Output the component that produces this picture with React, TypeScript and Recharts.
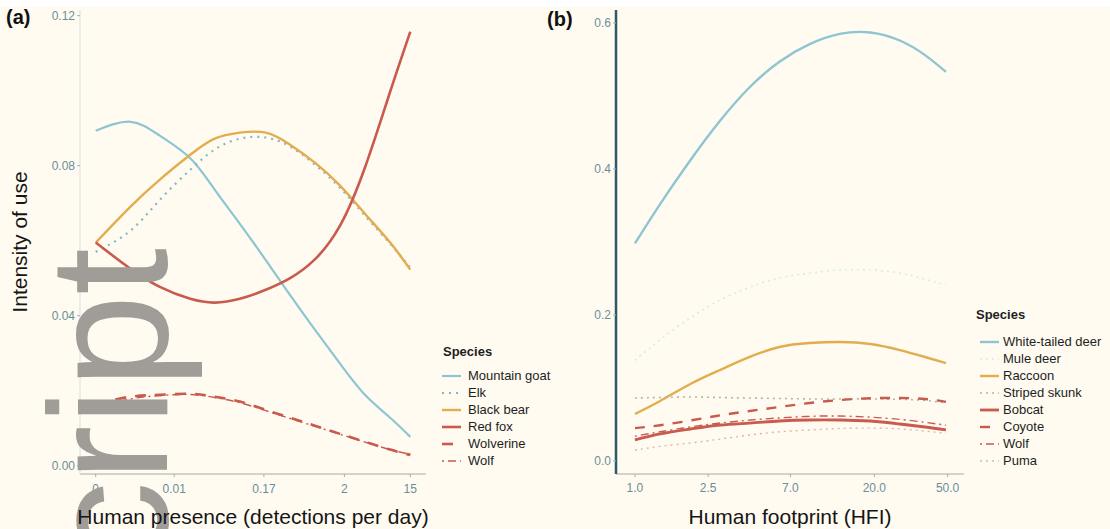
import React from 'react';
import { LineChart, Line, XAxis, YAxis } from 'recharts';

// ---------- Panel (a): human presence (detections per day) ----------
const DETECTIONS = [0, 0.0019, 0.0061, 0.017, 0.037, 0.081, 0.18, 0.38, 0.81, 1.75, 3.75, 8.1, 15];
const MOUNTAIN_GOAT = [0.0893, 0.0917, 0.088, 0.082, 0.0736, 0.0645, 0.0548, 0.0455, 0.0363, 0.0272, 0.0189, 0.0128, 0.0077];
const ELK = [0.057, 0.0627, 0.0709, 0.0789, 0.0843, 0.0872, 0.0875, 0.0851, 0.0803, 0.0741, 0.0667, 0.0592, 0.0528];
const BLACK_BEAR = [0.0595, 0.0691, 0.0763, 0.0829, 0.0872, 0.0888, 0.0888, 0.0856, 0.0808, 0.0747, 0.0672, 0.0595, 0.0523];
const RED_FOX = [0.0595, 0.0525, 0.0477, 0.0445, 0.0435, 0.0445, 0.0469, 0.05, 0.055, 0.064, 0.0795, 0.0997, 0.1157];
const WOLVERINE = [0.0165, 0.0184, 0.0189, 0.0192, 0.0184, 0.0171, 0.0149, 0.0128, 0.0107, 0.0085, 0.0064, 0.0043, 0.0029];
const WOLF_A = [0.0155, 0.0178, 0.0187, 0.019, 0.0182, 0.0168, 0.0147, 0.0126, 0.0105, 0.0084, 0.0063, 0.0043, 0.003];
const TICKS_A_X = [0, 0.01, 0.17, 2, 15];
const TICK_LABELS_A_X = ['0', '0.01', '0.17', '2', '15'];
const TICKS_A_Y = [0, 0.04, 0.08, 0.12];

// ---------- Panel (b): human footprint (HFI) ----------
const HFI = [1.0, 1.37, 2.0, 2.9, 4.2, 6.1, 8.9, 13, 19, 27.5, 37.7, 49];
const WHITE_TAILED_DEER = [0.298, 0.352, 0.412, 0.466, 0.512, 0.547, 0.571, 0.585, 0.587, 0.576, 0.556, 0.533];
const MULE_DEER = [0.138, 0.166, 0.196, 0.2205, 0.238, 0.2507, 0.2575, 0.2616, 0.2616, 0.2575, 0.249, 0.241];
const RACCOON = [0.0644, 0.0822, 0.1055, 0.1247, 0.1425, 0.1562, 0.1616, 0.163, 0.1603, 0.152, 0.1425, 0.1342];
const STRIPED_SKUNK = [0.0863, 0.087, 0.0877, 0.087, 0.0863, 0.0857, 0.085, 0.085, 0.085, 0.0845, 0.083, 0.0795];
const BOBCAT = [0.0288, 0.037, 0.0438, 0.0493, 0.052, 0.0548, 0.0562, 0.0562, 0.0548, 0.0507, 0.0466, 0.0425];
const COYOTE = [0.045, 0.049, 0.0555, 0.0625, 0.0685, 0.074, 0.0795, 0.0835, 0.086, 0.0863, 0.085, 0.081];
const WOLF_B = [0.034, 0.04, 0.0466, 0.052, 0.056, 0.059, 0.0612, 0.0616, 0.06, 0.057, 0.053, 0.049];
const PUMA = [0.015, 0.02, 0.0247, 0.03, 0.0356, 0.04, 0.0425, 0.0445, 0.045, 0.044, 0.041, 0.038];
const TICKS_B_X = [1, 2.5, 7, 20, 50];
const TICKS_B_Y = [0, 0.2, 0.4, 0.6];

// ---------- styles ----------
const BLUE = '#8ec5d0';
const GOLD = '#e2ad4e';
const RED = '#c85a4e';
const BG = '#fffbf1';
const TICK_COLOR = '#6a8e99';
const FONT = '"Liberation Sans", Arial, Helvetica, sans-serif';

const tr = (d: number) => Math.log10(d + 0.001);

const SERIES_A = [
  { key: 'goat', name: 'Mountain goat', values: MOUNTAIN_GOAT, color: BLUE, width: 2.2, dash: undefined as string | undefined },
  { key: 'elk', name: 'Elk', values: ELK, color: '#7fb9c8', width: 2.2, dash: '2 5' },
  { key: 'bear', name: 'Black bear', values: BLACK_BEAR, color: GOLD, width: 2.4, dash: undefined },
  { key: 'fox', name: 'Red fox', values: RED_FOX, color: RED, width: 2.6, dash: undefined },
  { key: 'wolverine', name: 'Wolverine', values: WOLVERINE, color: RED, width: 2.6, dash: '11 9' },
  { key: 'wolf', name: 'Wolf', values: WOLF_A, color: RED, width: 1.4, dash: '2 4 8 4' },
];

const SERIES_B = [
  { key: 'wtd', name: 'White-tailed deer', values: WHITE_TAILED_DEER, color: BLUE, width: 2.4, dash: undefined as string | undefined },
  { key: 'mule', name: 'Mule deer', values: MULE_DEER, color: '#d6ebef', width: 1.6, dash: '2 4' },
  { key: 'raccoon', name: 'Raccoon', values: RACCOON, color: GOLD, width: 2.4, dash: undefined },
  { key: 'skunk', name: 'Striped skunk', values: STRIPED_SKUNK, color: '#b9b3a0', width: 1.6, dash: '2 4' },
  { key: 'bobcat', name: 'Bobcat', values: BOBCAT, color: RED, width: 2.8, dash: undefined },
  { key: 'coyote', name: 'Coyote', values: COYOTE, color: RED, width: 2.4, dash: '10 9' },
  { key: 'wolf', name: 'Wolf', values: WOLF_B, color: RED, width: 1.4, dash: '2 4 8 4' },
  { key: 'puma', name: 'Puma', values: PUMA, color: '#e3b4ad', width: 1.4, dash: '2 4' },
];

const dataA = DETECTIONS.map((d, i) => {
  const row: Record<string, number> = { t: tr(d) };
  SERIES_A.forEach((s) => (row[s.key] = s.values[i]));
  return row;
});

const dataB = HFI.map((h, i) => {
  const row: Record<string, number> = { hfi: h };
  SERIES_B.forEach((s) => (row[s.key] = s.values[i]));
  return row;
});

const tickStyle = { fontSize: 12, fill: TICK_COLOR, fontFamily: FONT };

function Legend({ items, left, top, keyLeft, textLeft, firstGap }: any) {
  return (
    <div style={{ position: 'absolute', left, top, fontFamily: FONT, color: '#1e1e1e' }}>
      <div style={{ position: 'absolute', left: 0, top: 0, fontSize: 13, fontWeight: 'bold', lineHeight: '16px', whiteSpace: 'nowrap' }}>Species</div>
      {items.map((s: any, i: number) => (
        <div key={s.key} style={{ position: 'absolute', top: firstGap + i * 17, left: 0, height: 16, whiteSpace: 'nowrap' }}>
          <svg width={22} height={16} style={{ position: 'absolute', left: keyLeft, top: 0 }}>
            <line x1={1} y1={8} x2={20} y2={8} stroke={s.color} strokeWidth={s.width} strokeDasharray={s.dash} />
          </svg>
          <span style={{ position: 'absolute', left: textLeft, top: 0, fontSize: 13, lineHeight: '16px' }}>{s.name}</span>
        </div>
      ))}
    </div>
  );
}

export default function App() {
  return (
    <div style={{ position: 'absolute', left: 0, top: 0, width: 1110, height: 529, background: BG, overflow: 'hidden', fontFamily: FONT }}>
      <div style={{ position: 'absolute', left: 0, top: 0, width: 1110, height: 7, background: '#ffffff' }} />

      {/* Panel (a) */}
      <div style={{ position: 'absolute', left: 0, top: 0 }}>
        <LineChart width={440} height={529} data={dataA} margin={{ top: 10, right: 14, bottom: 25, left: 0 }}>
          <XAxis
            type="number"
            dataKey="t"
            domain={[-3.2084, 1.3845]}
            allowDataOverflow
            ticks={TICKS_A_X.map(tr)}
            tickFormatter={(v: number) => {
              const idx = TICKS_A_X.findIndex((d) => Math.abs(tr(d) - v) < 1e-6);
              return idx >= 0 ? TICK_LABELS_A_X[idx] : '';
            }}
            height={30}
            tick={tickStyle}
            tickSize={3}
            tickMargin={7}
            axisLine={{ stroke: '#c9c3bd', strokeWidth: 1.5 }}
            tickLine={{ stroke: '#9fb0b5' }}
          />
          <YAxis
            type="number"
            domain={[-0.0022, 0.1215]}
            allowDataOverflow
            ticks={TICKS_A_Y}
            tickFormatter={(v: number) => v.toFixed(2)}
            width={80}
            tick={tickStyle}
            tickSize={3}
            tickMargin={2}
            axisLine={{ stroke: '#e4e8e6', strokeWidth: 1.5 }}
            tickLine={{ stroke: '#9fb0b5' }}
          />
          {SERIES_A.map((s) => (
            <Line
              key={s.key}
              dataKey={s.key}
              type="natural"
              stroke={s.color}
              strokeWidth={s.width}
              strokeDasharray={s.dash}
              dot={false}
              activeDot={false}
              isAnimationActive={false}
            />
          ))}
        </LineChart>
      </div>

      {/* Panel (b) */}
      <div style={{ position: 'absolute', left: 540, top: 0 }}>
        <LineChart width={440} height={529} data={dataB} margin={{ top: 10, right: 16, bottom: 25, left: 0 }}>
          <XAxis
            type="number"
            dataKey="hfi"
            scale="log"
            domain={[0.789, 61.4]}
            allowDataOverflow
            ticks={TICKS_B_X}
            tickFormatter={(v: number) => v.toFixed(1)}
            height={30}
            tick={tickStyle}
            tickSize={3}
            tickMargin={6}
            axisLine={{ stroke: '#c9c3bd', strokeWidth: 1.5 }}
            tickLine={{ stroke: '#9fb0b5' }}
          />
          <YAxis
            type="number"
            domain={[-0.0178, 0.6178]}
            allowDataOverflow
            ticks={TICKS_B_Y}
            tickFormatter={(v: number) => v.toFixed(1)}
            width={76}
            tick={tickStyle}
            tickSize={3}
            tickMargin={2}
            axisLine={{ stroke: '#2d5a68', strokeWidth: 2.5 }}
            tickLine={{ stroke: '#9fb0b5' }}
          />
          {SERIES_B.map((s) => (
            <Line
              key={s.key}
              dataKey={s.key}
              type="natural"
              stroke={s.color}
              strokeWidth={s.width}
              strokeDasharray={s.dash}
              dot={false}
              activeDot={false}
              isAnimationActive={false}
            />
          ))}
        </LineChart>
      </div>

      {/* Legends */}
      <Legend items={SERIES_A} left={443} top={344} keyLeft={-2} textLeft={25} firstGap={24} />
      <Legend items={SERIES_B} left={976} top={307} keyLeft={3} textLeft={27} firstGap={27} />

      {/* Panel labels */}
      <div style={{ position: 'absolute', left: 6, top: 5, fontSize: 20, fontWeight: 'bold', lineHeight: '24px', color: '#111' }}>(a)</div>
      <div style={{ position: 'absolute', left: 547, top: 7, fontSize: 20, fontWeight: 'bold', lineHeight: '24px', color: '#111' }}>(b)</div>

      {/* Watermark */}
      <svg width={1110} height={529} style={{ position: 'absolute', left: 0, top: 0, pointerEvents: 'none' }}>
        <text x={167} y={248} transform="rotate(-90 167 248)" textAnchor="end" fontSize={168} fontFamily={FONT} fill="#a09d98">
          cript
        </text>
      </svg>

      {/* Axis titles */}
      <div style={{ position: 'absolute', left: 3, top: 505, width: 500, textAlign: 'center', fontSize: 21, lineHeight: '24px', color: '#151515' }}>
        Human presence (detections per day)
      </div>
      <div style={{ position: 'absolute', left: 540, top: 505, width: 500, textAlign: 'center', fontSize: 21, lineHeight: '24px', color: '#151515' }}>
        Human footprint (HFI)
      </div>
      <div style={{ position: 'absolute', left: -80, top: 230, width: 200, height: 24, textAlign: 'center', fontSize: 21, lineHeight: '24px', color: '#151515', transform: 'rotate(-90deg)' }}>
        Intensity of use
      </div>
    </div>
  );
}
